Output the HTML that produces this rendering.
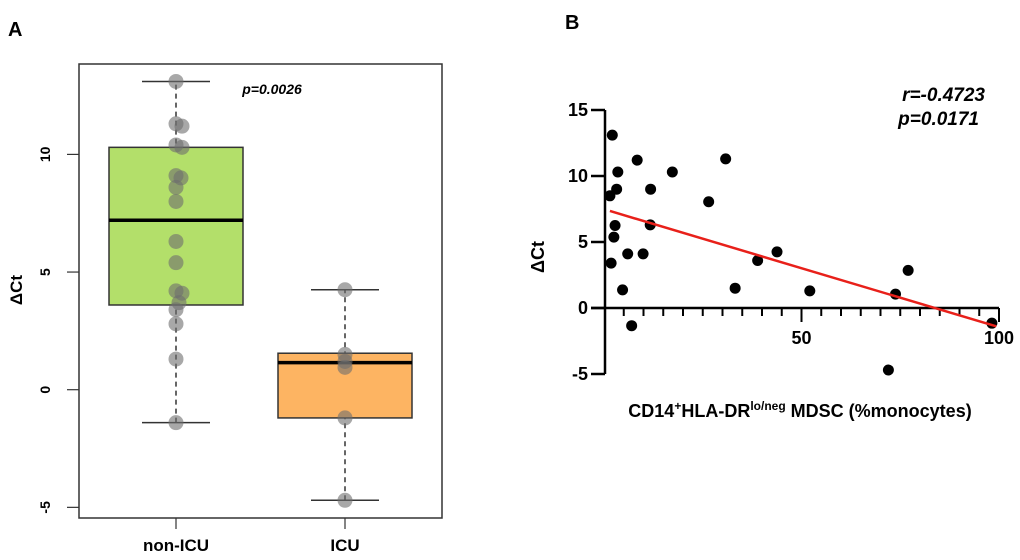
<!DOCTYPE html>
<html><head><meta charset="utf-8"><style>
body{margin:0;background:#fff;font-family:"Liberation Sans",sans-serif;}
svg text{font-family:"Liberation Sans",sans-serif;}
</style></head><body>
<svg width="1020" height="555" viewBox="0 0 1020 555">
<g id="A"></g>
<g id="B"></g>
</svg>
<script>
const NS='http://www.w3.org/2000/svg';
function mk(p,t,a,txt){const e=document.createElementNS(NS,t);for(const k in a)e.setAttribute(k,a[k]);if(txt!==undefined)e.textContent=txt;p.appendChild(e);return e;}

// ---- Panel A data ----
const groupNames=['non-ICU','ICU'];
const boxQ1=[3.6,-1.2];
const boxMedian=[7.2,1.15];
const boxQ3=[10.3,1.55];
const whiskLo=[-1.4,-4.7];
const whiskHi=[13.1,4.25];
const nonIcuPoints=[13.1,11.3,11.2,10.4,10.3,9.1,9.0,8.6,8.0,6.3,5.4,4.2,4.1,3.7,3.4,2.8,1.3,-1.4];
const icuPoints=[4.25,1.5,1.2,0.95,-1.2,-4.7];
const jitterNon=[0,0,6,0,6,0,5,0,0,0,0,0,6,3,0,0,0,0];
const jitterIcu=[0,0,0,0,0,0];
const yTicksA=[-5,0,5,10];

const A=document.getElementById('A');
const yA=v=>389.7-v*23.53;
const xA=i=>[176,345][i];
const boxColors=['#b3df6a','#fdb462'];
let e;
e=mk(A,'text',{x:8,y:36,'font-size':20,'font-weight':'bold'},'A');

for(let i=0;i<2;i++){
  const cx=xA(i);
  e=mk(A,'line',{x1:cx,x2:cx,y1:yA(whiskLo[i]),y2:yA(whiskHi[i]),stroke:'#333','stroke-width':1.5,'stroke-dasharray':'5,4'});
  
  for(const v of [whiskLo[i],whiskHi[i]]){
    e=mk(A,'line',{x1:cx-34,x2:cx+34,y1:yA(v),y2:yA(v),stroke:'#333','stroke-width':1.5});
    
  }
  e=mk(A,'rect',{x:cx-67,y:yA(boxQ3[i]),width:134,height:yA(boxQ1[i])-yA(boxQ3[i]),fill:boxColors[i],stroke:'#333','stroke-width':1.5});
  
  e=mk(A,'line',{x1:cx-67,x2:cx+67,y1:yA(boxMedian[i]),y2:yA(boxMedian[i]),stroke:'#000','stroke-width':3.5});
  
}
nonIcuPoints.forEach((v,j)=>{e=mk(A,'circle',{cx:xA(0)+jitterNon[j],cy:yA(v),r:7.5,fill:'rgba(110,110,110,0.6)'});
  });
icuPoints.forEach((v,j)=>{e=mk(A,'circle',{cx:xA(1)+jitterIcu[j],cy:yA(v),r:7.5,fill:'rgba(110,110,110,0.6)'});
  });
e=mk(A,'rect',{x:79,y:64,width:363,height:454,fill:'none',stroke:'#333','stroke-width':1.5});

yTicksA.forEach(t=>{
  e=mk(A,'line',{x1:67,x2:79,y1:yA(t),y2:yA(t),stroke:'#333','stroke-width':1.2});
  
  e=mk(A,'text',{x:0,y:0,transform:`translate(50,${yA(t)}) rotate(-90)`,'text-anchor':'middle','font-size':14,'font-weight':'bold'},String(t));
  
});
groupNames.forEach((g,i)=>{
  e=mk(A,'line',{x1:xA(i),x2:xA(i),y1:518,y2:529,stroke:'#333','stroke-width':1.2});
  
  e=mk(A,'text',{x:xA(i),y:551,'text-anchor':'middle','font-size':17,'font-weight':'bold'},g);
  
});
e=mk(A,'text',{x:0,y:0,transform:'translate(22,290) rotate(-90)','text-anchor':'middle','font-size':17,'font-weight':'bold'},'ΔCt');

e=mk(A,'text',{x:272,y:94,'text-anchor':'middle','font-size':14,'font-weight':'bold','font-style':'italic'},'p=0.0026');


// ---- Panel B data ----
const mdscX=[2.1,1.5,3.2,3.5,8.4,2.8,2.5,1.8,6.0,4.7,7.0,9.9,11.8,11.7,17.3,26.5,30.8,33.2,38.9,43.8,52.1,73.8,77.0,72.0,98.2];
const dctY=[13.1,8.5,9.0,10.3,11.2,6.25,5.37,3.4,4.1,1.37,-1.34,4.1,9.0,6.3,10.3,8.05,11.3,1.5,3.6,4.25,1.3,1.05,2.85,-4.7,-1.15];
const fitX=[1.5,99.3];
const fitY=[7.35,-1.39];
const yTicksB=[-5,0,5,10,15];
const xTicksB=[50,100];

const B=document.getElementById('B');
const xB=v=>604+v*3.95;
const yB=v=>308-v*13.2;
e=mk(B,'text',{x:558,y:29,'font-size':20,'font-weight':'bold'},'B');
e.setAttribute('x',565);

e=mk(B,'line',{x1:605,x2:605,y1:yB(15),y2:yB(-5),stroke:'#000','stroke-width':2.5});

e=mk(B,'line',{x1:591,x2:xB(100),y1:yB(0),y2:yB(0),stroke:'#000','stroke-width':2.5});

yTicksB.forEach(t=>{
  e=mk(B,'line',{x1:591,x2:605,y1:yB(t),y2:yB(t),stroke:'#000','stroke-width':2.5});
  
  e=mk(B,'text',{x:588,y:yB(t)+6,'text-anchor':'end','font-size':18,'font-weight':'bold'},String(t));
  
});
for(let v=5;v<=100;v+=5){
  const major=v%50===0;
  e=mk(B,'line',{x1:xB(v),x2:xB(v),y1:yB(0),y2:yB(0)+(major?14:8),stroke:'#000','stroke-width':2});
  
}
xTicksB.forEach(t=>{
  e=mk(B,'text',{x:xB(t),y:344,'text-anchor':'middle','font-size':18,'font-weight':'bold'},String(t));
  
});
mdscX.forEach((x,i)=>{e=mk(B,'circle',{cx:xB(x),cy:yB(dctY[i]),r:5.5,fill:'#000'});
  });
e=mk(B,'line',{x1:xB(fitX[0]),y1:yB(fitY[0]),x2:xB(fitX[1]),y2:yB(fitY[1]),stroke:'#e8201a','stroke-width':2.5});

e=mk(B,'text',{x:0,y:0,transform:'translate(544,257) rotate(-90)','text-anchor':'middle','font-size':18,'font-weight':'bold'},'ΔCt');

e=mk(B,'text',{x:800,y:417,'text-anchor':'middle','font-size':18,'font-weight':'bold'});

e.innerHTML='CD14<tspan dy="-7" font-size="12">+</tspan><tspan dy="7">HLA-DR</tspan><tspan dy="-7" font-size="12">lo/neg</tspan><tspan dy="7"> MDSC (%monocytes)</tspan>';
e=mk(B,'text',{x:985,y:101,'text-anchor':'end','font-size':19,'font-weight':'bold','font-style':'italic'},'r=-0.4723');

e=mk(B,'text',{x:979,y:125,'text-anchor':'end','font-size':19,'font-weight':'bold','font-style':'italic'},'p=0.0171');

</script>
</body></html>
